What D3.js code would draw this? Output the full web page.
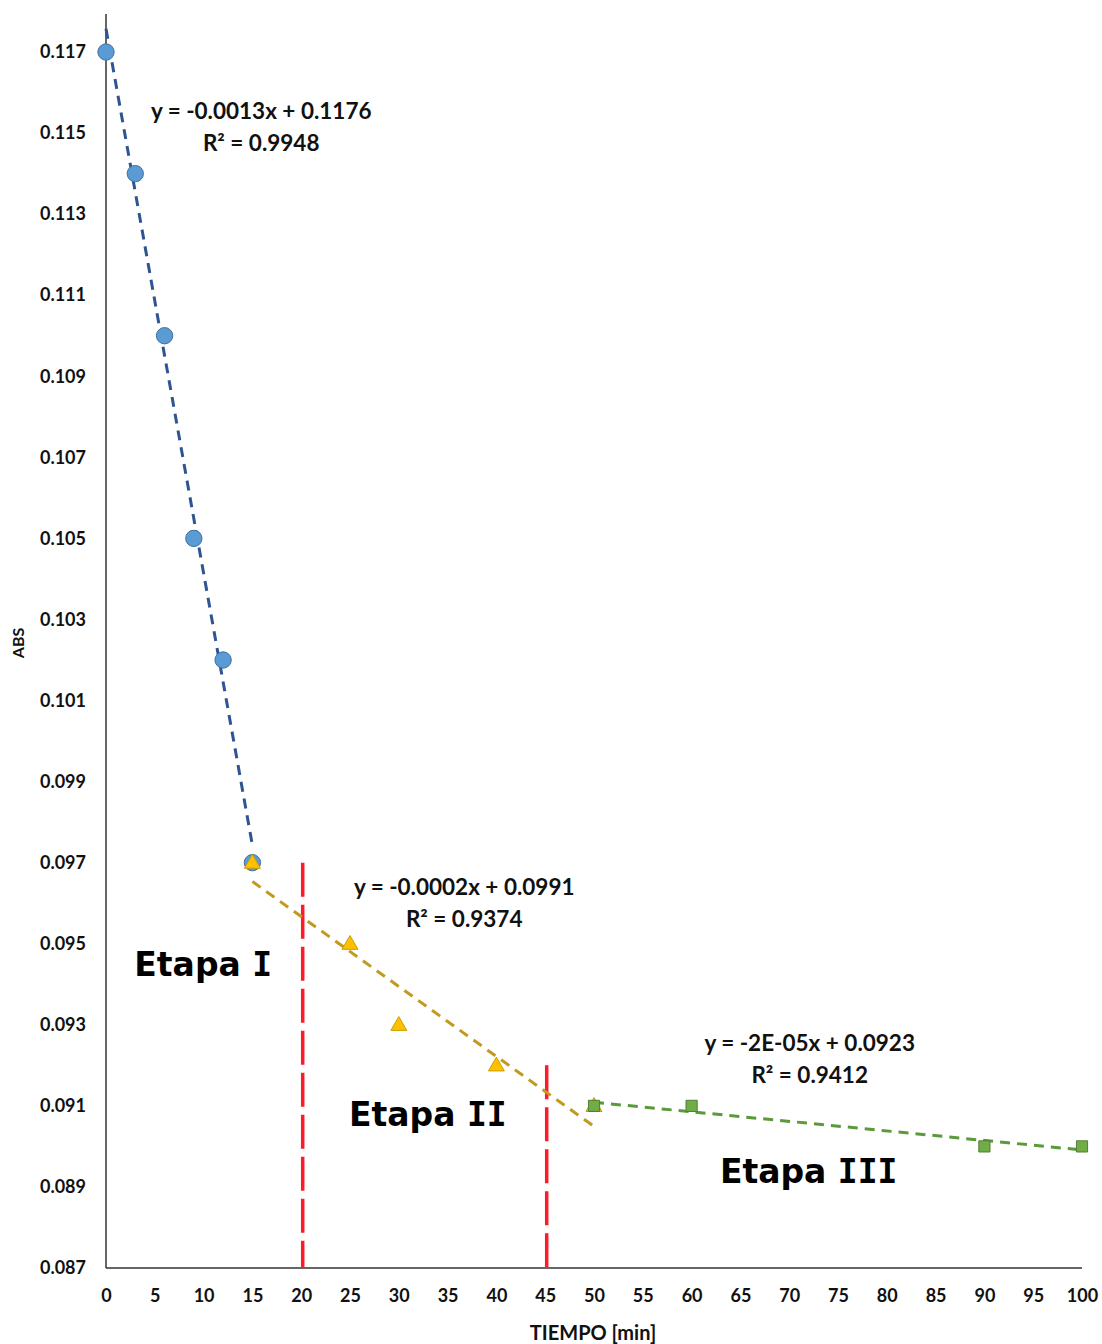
<!DOCTYPE html>
<html><head><meta charset="utf-8">
<script src="https://cdn.jsdelivr.net/npm/d3@7"></script>
<style>body{margin:0;background:#fff}svg{display:block}</style>
</head><body>
<script>
// ---- data ----
const etapa1X = [0, 3, 6, 9, 12, 15];
const etapa1Y = [0.117, 0.114, 0.110, 0.105, 0.102, 0.097];
const etapa2X = [15, 25, 30, 40, 50];
const etapa2Y = [0.097, 0.095, 0.093, 0.092, 0.091];
const etapa3X = [50, 60, 90, 100];
const etapa3Y = [0.091, 0.091, 0.090, 0.090];
const xTicks = d3.range(0, 101, 5);
const yTicks = [0.087,0.089,0.091,0.093,0.095,0.097,0.099,0.101,0.103,0.105,0.107,0.109,0.111,0.113,0.115,0.117];
const eqLabels = [
  {l1: "y = -0.0013x + 0.1176", l2: "R² = 0.9948", x: 15.9, y: 0.11535},
  {l1: "y = -0.0002x + 0.0991", l2: "R² = 0.9374", x: 36.7, y: 0.09620},
  {l1: "y = -2E-05x + 0.0923", l2: "R² = 0.9412", x: 72.1, y: 0.09235}
];
const stageLabels = [
  {word: "Etapa ", num: "I", x: 2.9, y: 0.0942},
  {word: "Etapa ", num: "II", x: 24.9, y: 0.0905},
  {word: "Etapa ", num: "III", x: 62.9, y: 0.0891}
];
const dividers = [{x: 20, y0: 0.087, y1: 0.0970}, {x: 45, y0: 0.087, y1: 0.0920}];

const W = 1102, H = 1344;
const svg = d3.select("body").append("svg").attr("width", W).attr("height", H);
const x = d3.scaleLinear().domain([0, 100]).range([106, 1082]);
const y = d3.scaleLinear().domain([0.087, 0.117]).range([1268, 52]);
const yTop = 14;

function fit(xs, ys) {
  const n = xs.length, mx = d3.mean(xs), my = d3.mean(ys);
  let sxy = 0, sxx = 0;
  for (let i = 0; i < n; i++) { sxy += (xs[i]-mx)*(ys[i]-my); sxx += (xs[i]-mx)**2; }
  const m = sxy/sxx; return {m, b: my - m*mx};
}

// axes
const font = "Lato, 'Open Sans', sans-serif";
const yAxis = svg.append("g").attr("transform", `translate(${x(0)},0)`)
  .call(d3.axisLeft(y).tickValues(yTicks).tickSize(0).tickPadding(20).tickFormat(d3.format(".3f")));
yAxis.select(".domain").remove();
yAxis.selectAll("text").attr("font-family", font).attr("font-weight", "bold").attr("font-size", 18).attr("fill", "#111");
svg.append("line").attr("x1", x(0)).attr("x2", x(0)).attr("y1", yTop).attr("y2", y(0.087)).attr("stroke", "#333").attr("stroke-width", 1.5);

const xAxis = svg.append("g").attr("transform", `translate(0,${y(0.087)})`)
  .call(d3.axisBottom(x).tickValues(xTicks).tickSize(0).tickPadding(21));
xAxis.select(".domain").remove();
xAxis.selectAll("text").attr("font-family", font).attr("font-weight", "bold").attr("font-size", 18).attr("fill", "#111");
svg.append("line").attr("x1", x(0)).attr("x2", x(100)).attr("y1", y(0.087)).attr("y2", y(0.087)).attr("stroke", "#333").attr("stroke-width", 1.5);

svg.append("text").attr("transform", `translate(24,643) rotate(-90)`).attr("text-anchor", "middle")
  .attr("font-family", font).attr("font-weight", "bold").attr("font-size", 16).attr("fill", "#111").text("ABS");
svg.append("text").attr("x", 593).attr("y", 1340).attr("text-anchor", "middle")
  .attr("font-family", font).attr("font-weight", "bold").attr("font-size", 20).attr("fill", "#111").text("TIEMPO [min]");

// dividers
svg.selectAll(".div").data(dividers).join("line")
  .attr("x1", d => x(d.x) + 1.5).attr("x2", d => x(d.x) + 1.5).attr("y1", d => y(d.y1)).attr("y2", d => y(d.y0))
  .attr("stroke", "#ff1a2a").attr("stroke-width", 3.5).attr("stroke-dasharray", "34,8");

// trendlines
const series = [
  {xs: etapa1X, ys: etapa1Y, line: "#2e5591", fill: "#5b9bd5", stroke: "#41719c", shape: "circle"},
  {xs: etapa2X, ys: etapa2Y, line: "#c19a1e", fill: "#ffc000", stroke: "#c8a000", shape: "triangle"},
  {xs: etapa3X, ys: etapa3Y, line: "#5a9a3a", fill: "#70ad47", stroke: "#507e32", shape: "square"}
];
series.forEach(s => {
  const f = fit(s.xs, s.ys);
  const x0 = d3.min(s.xs), x1 = d3.max(s.xs);
  svg.append("line").attr("x1", x(x0)).attr("y1", y(f.m*x0+f.b)).attr("x2", x(x1)).attr("y2", y(f.m*x1+f.b))
    .attr("stroke", s.line).attr("stroke-width", 3).attr("stroke-dasharray", "10,7");
});
// markers
series.forEach(s => {
  const pts = s.xs.map((v, i) => [v, s.ys[i]]);
  let sym;
  if (s.shape === "circle") sym = d3.symbol(d3.symbolCircle, 210);
  else if (s.shape === "triangle") sym = d3.symbol(d3.symbolTriangle, 110);
  else sym = d3.symbol(d3.symbolSquare, 125);
  svg.append("g").selectAll("path").data(pts).join("path")
    .attr("d", sym)
    .attr("transform", d => `translate(${x(d[0])},${y(d[1]) + (s.shape === "triangle" ? 1 : 0)})`)
    .attr("fill", s.fill).attr("stroke", s.stroke).attr("stroke-width", 1);
});

// equation labels
eqLabels.forEach(e => {
  const t = svg.append("text").attr("text-anchor", "middle").attr("font-family", font).attr("font-weight", "bold")
    .attr("font-size", 22.5).attr("fill", "#111");
  t.append("tspan").attr("x", x(e.x)).attr("y", y(e.y)).text(e.l1);
  t.append("tspan").attr("x", x(e.x)).attr("dy", 32).text(e.l2);
});
// stage labels
stageLabels.forEach(d => {
  const t = svg.append("text").attr("x", x(d.x)).attr("y", y(d.y))
    .attr("font-family", "'DejaVu Sans', Verdana, sans-serif")
    .attr("font-weight", "bold").attr("font-size", 33).attr("fill", "#000");
  t.append("tspan").attr("style", "white-space:pre").text(d.word);
  t.append("tspan").attr("font-family", "'DejaVu Sans Mono', monospace").text(d.num);
});
</script>
</body></html>
